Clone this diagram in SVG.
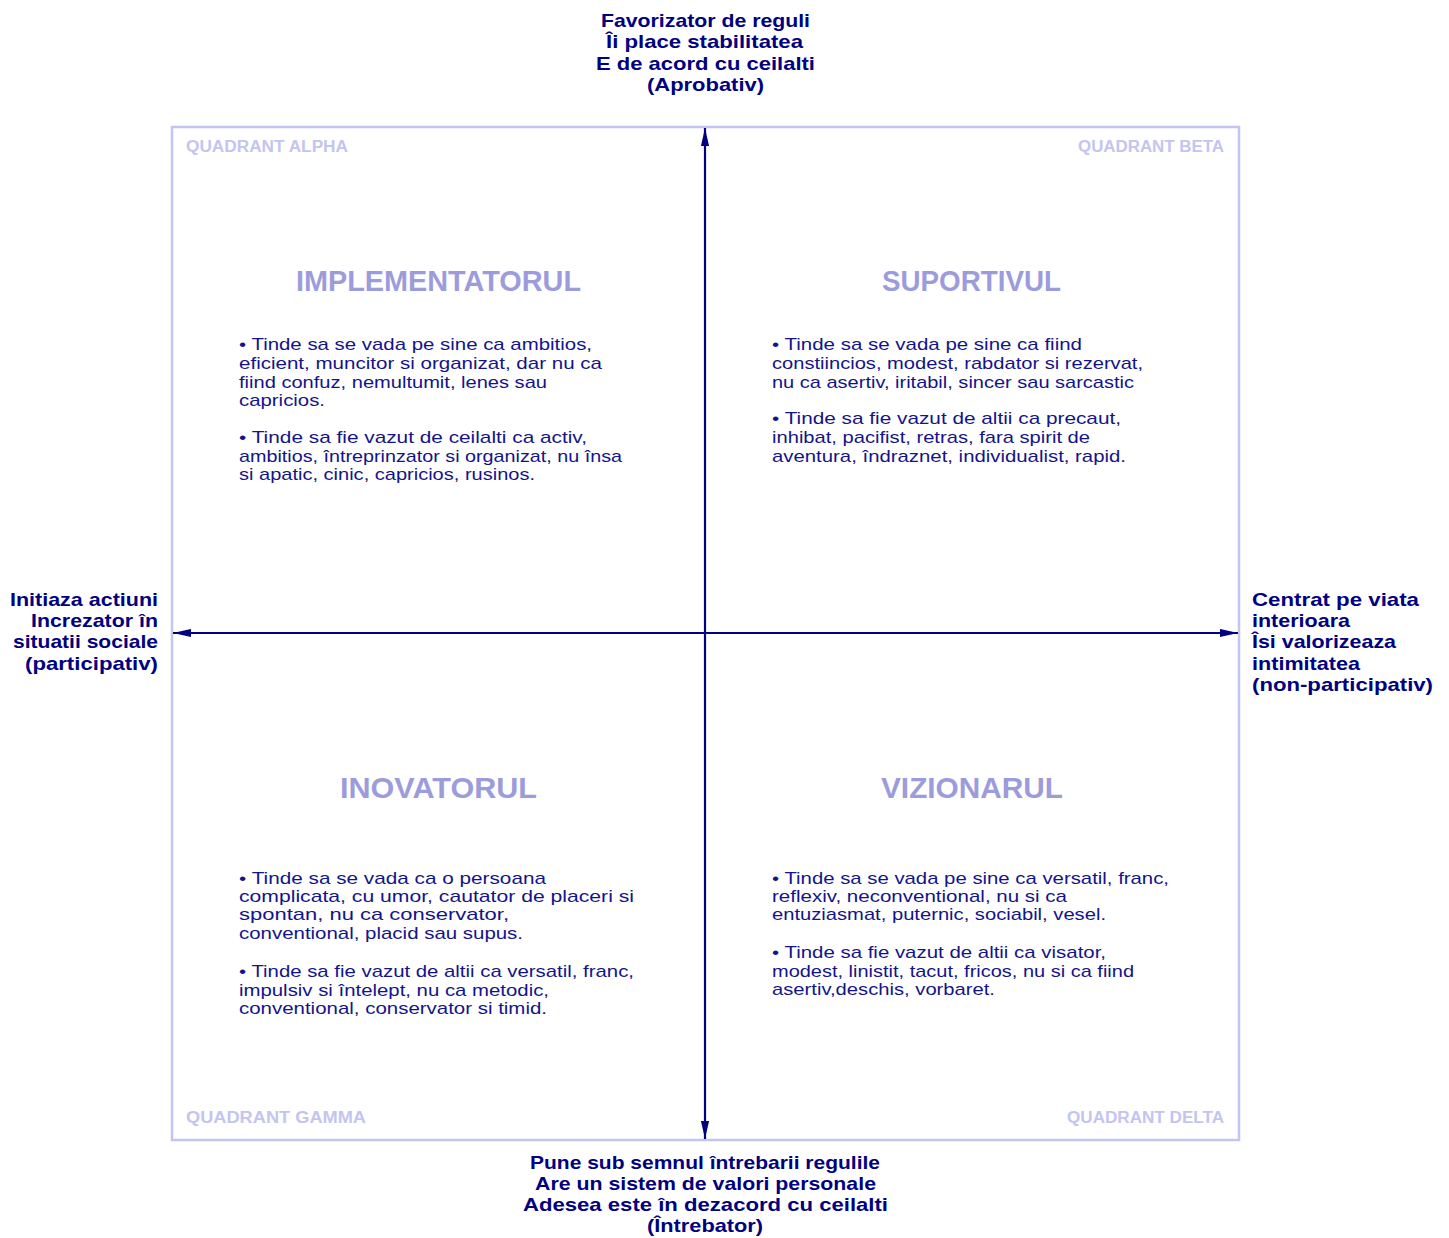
<svg xmlns="http://www.w3.org/2000/svg" width="1449" height="1238" viewBox="0 0 1449 1238">
<style>
.axl{font-family:"Liberation Sans",Arial,sans-serif;font-weight:bold;font-size:19px;fill:#000080}
.q{font-family:"Liberation Sans",Arial,sans-serif;font-weight:bold;font-size:16px;fill:#c4c4f0}
.t{font-family:"Liberation Sans",Arial,sans-serif;font-weight:bold;font-size:30px;fill:#9c9cdc;text-anchor:middle}
.b{font-family:"Liberation Sans",Arial,sans-serif;font-size:17px;fill:#14148a}
.r{text-anchor:end}
.ax{stroke:#000080;stroke-width:2.2;fill:none}
</style>
<defs>
<marker id="ahL" viewBox="0 0 20 10" refX="20" refY="5" markerWidth="20" markerHeight="9" markerUnits="userSpaceOnUse" orient="auto">
<path d="M0,0.5 L20,5 L0,9.5 Z" fill="#000080"/>
</marker>
</defs>
<rect width="1449" height="1238" fill="#ffffff"/>
<g id="frame">
<rect x="172" y="127" width="1067" height="1013" fill="none" stroke="#c4c4f2" stroke-width="2.5"/>
</g>
<g id="connectors">
<line class="ax" x1="705" y1="633" x2="705" y2="128" marker-end="url(#ahL)"/>
<line class="ax" x1="705" y1="633" x2="705" y2="1139" marker-end="url(#ahL)"/>
<line class="ax" x1="705" y1="633" x2="173" y2="633" marker-end="url(#ahL)"/>
<line class="ax" x1="705" y1="633" x2="1238" y2="633" marker-end="url(#ahL)"/>
</g>
<g id="label-top">
<text class="axl" x="705.5" y="27" textLength="209" lengthAdjust="spacingAndGlyphs" text-anchor="middle">Favorizator de reguli</text>
<text class="axl" x="704.5" y="48" textLength="197" lengthAdjust="spacingAndGlyphs" text-anchor="middle">Îi place stabilitatea</text>
<text class="axl" x="705.5" y="70" textLength="219" lengthAdjust="spacingAndGlyphs" text-anchor="middle">E de acord cu ceilalti</text>
<text class="axl" x="705.5" y="91" textLength="117" lengthAdjust="spacingAndGlyphs" text-anchor="middle">(Aprobativ)</text>
</g>
<g id="label-left">
<text class="axl" x="10" y="606" textLength="148" lengthAdjust="spacingAndGlyphs">Initiaza actiuni</text>
<text class="axl" x="31" y="627" textLength="127" lengthAdjust="spacingAndGlyphs">Increzator în</text>
<text class="axl" x="13" y="648" textLength="145" lengthAdjust="spacingAndGlyphs">situatii sociale</text>
<text class="axl" x="25" y="670" textLength="133" lengthAdjust="spacingAndGlyphs">(participativ)</text>
</g>
<g id="label-right">
<text class="axl" x="1252" y="606" textLength="167" lengthAdjust="spacingAndGlyphs">Centrat pe viata</text>
<text class="axl" x="1252" y="627" textLength="98" lengthAdjust="spacingAndGlyphs">interioara</text>
<text class="axl" x="1252" y="648" textLength="144" lengthAdjust="spacingAndGlyphs">Îsi valorizeaza</text>
<text class="axl" x="1252" y="670" textLength="108" lengthAdjust="spacingAndGlyphs">intimitatea</text>
<text class="axl" x="1252" y="691" textLength="181" lengthAdjust="spacingAndGlyphs">(non-participativ)</text>
</g>
<g id="label-bottom">
<text class="axl" x="705" y="1169" textLength="350" lengthAdjust="spacingAndGlyphs" text-anchor="middle">Pune sub semnul întrebarii regulile</text>
<text class="axl" x="705.5" y="1190" textLength="341" lengthAdjust="spacingAndGlyphs" text-anchor="middle">Are un sistem de valori personale</text>
<text class="axl" x="705.5" y="1211" textLength="365" lengthAdjust="spacingAndGlyphs" text-anchor="middle">Adesea este în dezacord cu ceilalti</text>
<text class="axl" x="705" y="1232" textLength="116" lengthAdjust="spacingAndGlyphs" text-anchor="middle">(Întrebator)</text>
</g>
<g id="quadrant-alpha">
<text class="q" x="186" y="152" textLength="162" lengthAdjust="spacingAndGlyphs">QUADRANT ALPHA</text>
<text class="t" x="438.5" y="291" textLength="285" lengthAdjust="spacingAndGlyphs">IMPLEMENTATORUL</text>
<text class="b" x="239" y="350" textLength="353" lengthAdjust="spacingAndGlyphs">• Tinde sa se vada pe sine ca ambitios,</text>
<text class="b" x="239" y="369" textLength="363" lengthAdjust="spacingAndGlyphs">eficient, muncitor si organizat, dar nu ca</text>
<text class="b" x="239" y="388" textLength="308" lengthAdjust="spacingAndGlyphs">fiind confuz, nemultumit, lenes sau</text>
<text class="b" x="239" y="406" textLength="86" lengthAdjust="spacingAndGlyphs">capricios.</text>
<text class="b" x="239" y="443" textLength="348" lengthAdjust="spacingAndGlyphs">• Tinde sa fie vazut de ceilalti ca activ,</text>
<text class="b" x="239" y="462" textLength="383" lengthAdjust="spacingAndGlyphs">ambitios, întreprinzator si organizat, nu însa</text>
<text class="b" x="239" y="480" textLength="296" lengthAdjust="spacingAndGlyphs">si apatic, cinic, capricios, rusinos.</text>
</g>
<g id="quadrant-beta">
<text class="q r" x="1224" y="152" textLength="146" lengthAdjust="spacingAndGlyphs">QUADRANT BETA</text>
<text class="t" x="971.5" y="291" textLength="179" lengthAdjust="spacingAndGlyphs">SUPORTIVUL</text>
<text class="b" x="772" y="350" textLength="310" lengthAdjust="spacingAndGlyphs">• Tinde sa se vada pe sine ca fiind</text>
<text class="b" x="772" y="369" textLength="371" lengthAdjust="spacingAndGlyphs">constiincios, modest, rabdator si rezervat,</text>
<text class="b" x="772" y="388" textLength="362" lengthAdjust="spacingAndGlyphs">nu ca asertiv, iritabil, sincer sau sarcastic</text>
<text class="b" x="772" y="424" textLength="349" lengthAdjust="spacingAndGlyphs">• Tinde sa fie vazut de altii ca precaut,</text>
<text class="b" x="772" y="443" textLength="318" lengthAdjust="spacingAndGlyphs">inhibat, pacifist, retras, fara spirit de</text>
<text class="b" x="772" y="462" textLength="354" lengthAdjust="spacingAndGlyphs">aventura, îndraznet, individualist, rapid.</text>
</g>
<g id="quadrant-gamma">
<text class="q" x="186" y="1123" textLength="180" lengthAdjust="spacingAndGlyphs">QUADRANT GAMMA</text>
<text class="t" x="438.5" y="798" textLength="197" lengthAdjust="spacingAndGlyphs">INOVATORUL</text>
<text class="b" x="239" y="884" textLength="307" lengthAdjust="spacingAndGlyphs">• Tinde sa se vada ca o persoana</text>
<text class="b" x="239" y="902" textLength="395" lengthAdjust="spacingAndGlyphs">complicata, cu umor, cautator de placeri si</text>
<text class="b" x="239" y="920" textLength="270" lengthAdjust="spacingAndGlyphs">spontan, nu ca conservator,</text>
<text class="b" x="239" y="939" textLength="284" lengthAdjust="spacingAndGlyphs">conventional, placid sau supus.</text>
<text class="b" x="239" y="977" textLength="395" lengthAdjust="spacingAndGlyphs">• Tinde sa fie vazut de altii ca versatil, franc,</text>
<text class="b" x="239" y="996" textLength="310" lengthAdjust="spacingAndGlyphs">impulsiv si întelept, nu ca metodic,</text>
<text class="b" x="239" y="1014" textLength="308" lengthAdjust="spacingAndGlyphs">conventional, conservator si timid.</text>
</g>
<g id="quadrant-delta">
<text class="q r" x="1224" y="1123" textLength="157" lengthAdjust="spacingAndGlyphs">QUADRANT DELTA</text>
<text class="t" x="972" y="798" textLength="182" lengthAdjust="spacingAndGlyphs">VIZIONARUL</text>
<text class="b" x="772" y="884" textLength="397" lengthAdjust="spacingAndGlyphs">• Tinde sa se vada pe sine ca versatil, franc,</text>
<text class="b" x="772" y="902" textLength="295" lengthAdjust="spacingAndGlyphs">reflexiv, neconventional, nu si ca</text>
<text class="b" x="772" y="920" textLength="334" lengthAdjust="spacingAndGlyphs">entuziasmat, puternic, sociabil, vesel.</text>
<text class="b" x="772" y="958" textLength="334" lengthAdjust="spacingAndGlyphs">• Tinde sa fie vazut de altii ca visator,</text>
<text class="b" x="772" y="977" textLength="362" lengthAdjust="spacingAndGlyphs">modest, linistit, tacut, fricos, nu si ca fiind</text>
<text class="b" x="772" y="995" textLength="223" lengthAdjust="spacingAndGlyphs">asertiv,deschis, vorbaret.</text>
</g>
</svg>
